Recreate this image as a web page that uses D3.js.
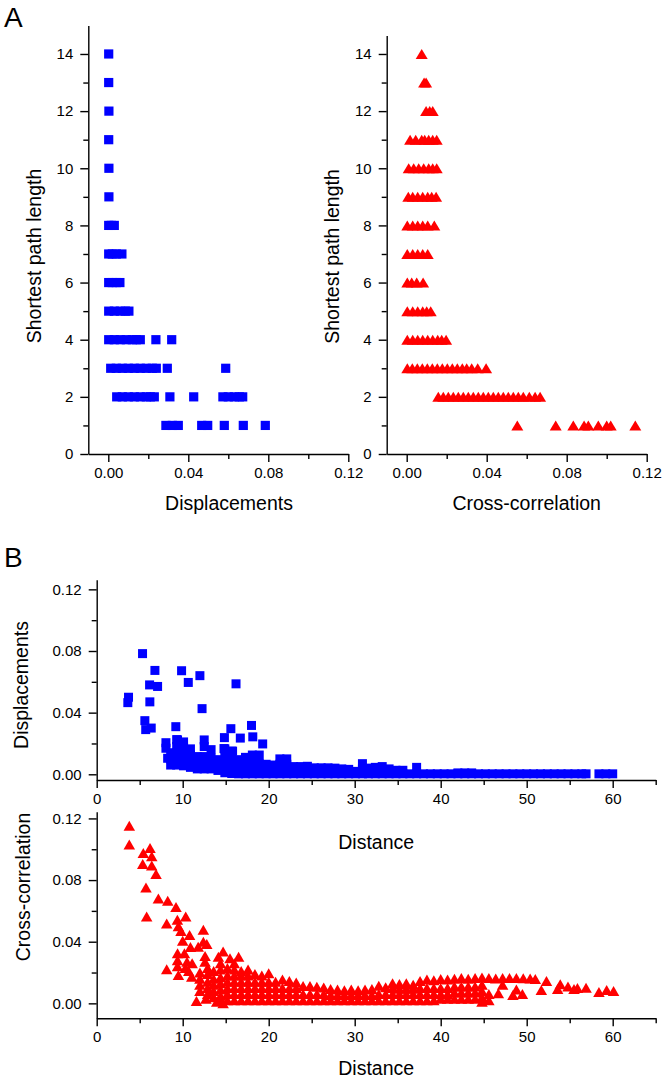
<!DOCTYPE html>
<html><head><meta charset="utf-8">
<script src="https://cdn.jsdelivr.net/npm/d3@7"></script>
<style>
body{margin:0;background:#fff}
svg{display:block}
text{font-family:"Liberation Sans",Arial,sans-serif;fill:#000}
</style>
</head><body>
<svg id="c" width="666" height="1081"></svg>
<script>
// ---------- tick values ----------
const pathLenMajor = [0,2,4,6,8,10,12,14];
const pathLenMinor = [1,3,5,7,9,11,13];
const corrMajor = [0,0.04,0.08,0.12];
const corrMinor = [0.02,0.06,0.10];
const distMajor = [0,10,20,30,40,50,60];
const distMinor = [5,15,25,35,45,55,65];

// ---------- Panel A: rows of [shortest path length, values...] ----------
const dispByPathLength = [
  [14, 0.0002],
  [13, 0.0002],
  [12, 0.0003],
  [11, 0.0002],
  [10, 0.0003],
  [9, 0.0003],
  [8, 0.0002, 0.0015, 0.003],
  [7, 0.0002, 0.002, 0.004, 0.0068],
  [6, 0.0002, 0.002, 0.004, 0.0058],
  [5, 0.0002, 0.003, 0.006, 0.0085, 0.0103],
  [4, 0.0002, 0.003, 0.006, 0.009, 0.012, 0.014, 0.016, 0.0238, 0.0317],
  [3, 0.0012, 0.004, 0.007, 0.010, 0.013, 0.016, 0.019, 0.022, 0.024, 0.0295, 0.0587],
  [2, 0.0042, 0.007, 0.010, 0.013, 0.016, 0.019, 0.021, 0.023, 0.0308, 0.0427, 0.0573, 0.060, 0.063, 0.0655, 0.0672],
  [1, 0.0288, 0.032, 0.035, 0.0467, 0.0497, 0.058, 0.0675, 0.0785]
];
const ccByPathLength = [
  [14, 0.0075],
  [13, 0.0087, 0.0097],
  [12, 0.0097, 0.0115, 0.013],
  [11, 0.0017, 0.0045, 0.0075, 0.009, 0.011, 0.013, 0.015],
  [10, 0.001, 0.0035, 0.006, 0.0085, 0.011, 0.013, 0.015],
  [9, 0.0008, 0.003, 0.0055, 0.008, 0.0105, 0.0125, 0.0147],
  [8, 0.0003, 0.003, 0.0055, 0.008, 0.0105, 0.0138],
  [7, 0.0003, 0.003, 0.0055, 0.008, 0.0105],
  [6, 0.0003, 0.0025, 0.005, 0.0082],
  [5, 0.0003, 0.003, 0.0055, 0.008, 0.010, 0.012],
  [4, 0.0003, 0.003, 0.0055, 0.008, 0.0105, 0.013, 0.0155, 0.0175, 0.0197],
  [3, 0.0003, 0.0028, 0.0053, 0.0078, 0.0103, 0.0128, 0.0153, 0.0178, 0.0203, 0.0228, 0.0253, 0.0278, 0.030, 0.0325, 0.0355, 0.0397],
  [2, 0.0158, 0.0183, 0.0208, 0.0233, 0.0258, 0.0283, 0.0308, 0.0333, 0.0358, 0.0383, 0.0408, 0.0433, 0.0458, 0.0483, 0.0508, 0.0533, 0.0558, 0.0583, 0.0613, 0.0642, 0.0667],
  [1, 0.0553, 0.0745, 0.0833, 0.0887, 0.0908, 0.0958, 0.100, 0.102, 0.1143]
];

// ---------- Panel B: displacements vs distance ----------
const dispOutliers = [
  [5.33,0.0783],[6.77,0.0674],[9.87,0.0672],[12.0,0.064],[10.65,0.0596],[6.15,0.058],[7.08,0.057],
  [16.2,0.0587],[3.7,0.050],[3.62,0.0465],[6.18,0.047],[12.25,0.0426],[5.6,0.0348],[5.7,0.029],
  [6.34,0.030],[9.2,0.0309],[15.6,0.0296],[18.0,0.0317],[18.15,0.0243],[16.7,0.0235],[14.85,0.0238],
  [12.5,0.0223],[9.4,0.0223],[8.05,0.0205],[8.05,0.0169],[19.3,0.0197],[8.25,0.0104],[14.8,0.0167],[15.8,0.015]
];
// columns: [distance, displacement values...]
const dispBand = [
  [8.6,0.006,0.010,0.014],
  [9.3,0.006,0.010,0.014,0.018,0.0225],
  [10.1,0.0055,0.0095,0.0135,0.0175,0.021],
  [10.9,0.0045,0.0085,0.0125,0.0165],
  [11.7,0.0035,0.0075,0.0115],
  [12.5,0.0035,0.0075,0.0115,0.018],
  [13.3,0.0035,0.0075,0.0105,0.016],
  [14.1,0.0025,0.006,0.0095],
  [14.9,0.001,0.004,0.008,0.012,0.0165],
  [15.7,0.0005,0.004,0.008,0.0125,0.015],
  [16.5,0.0003,0.003,0.0065,0.0095],
  [17.3,0.0003,0.003,0.007,0.011],
  [18.1,0.0003,0.003,0.007,0.0125],
  [18.9,0.0003,0.003,0.007,0.0125],
  [19.7,0.0003,0.003,0.0065],
  [20.5,0.0003,0.003,0.006],
  [21.3,0.0003,0.003,0.0065,0.010],
  [22.1,0.0003,0.003,0.0065,0.010],
  [22.9,0.0003,0.003,0.005],
  [23.7,0.0003,0.003,0.005],
  [24.5,0.0003,0.0035,0.0052],
  [25.3,0.0003,0.0042],[26.1,0.0003,0.0042],[26.9,0.0003,0.0042],[27.7,0.0003,0.004],
  [28.5,0.0003,0.0035],[29.3,0.0003,0.0032],[30.1,0.0003,0.0019],[30.9,0.0003,0.0035,0.0069],
  [31.6,0.0003,0.004],[32.4,0.0003,0.0045],[33.2,0.0003,0.005],[34.0,0.0003,0.0035],
  [34.8,0.0003,0.0026],[35.6,0.0003,0.0026],[36.4,0.0003],[37.2,0.0003,0.0045],
  [38.0,0.0003],[38.8,0.0003],[39.6,0.0003],[40.4,0.0003],[41.2,0.0003],[42.0,0.0003,0.0009],
  [42.8,0.0003,0.0009],[43.6,0.0003,0.0009],[44.4,0.0003],[45.2,0.0003],[46.0,0.0003],[46.8,0.0003],
  [47.6,0.0003],[48.4,0.0003],[49.2,0.0003],[50.0,0.0003],[50.8,0.0003],[51.6,0.0003],[52.4,0.0003],
  [53.2,0.0003],[54.0,0.0003],[54.8,0.0003],[55.6,0.0003],[56.4,0.0003],[56.9,0.0003],
  [58.4,0.0003],[59.2,0.0003],[60.0,0.0003]
];

// ---------- Panel B: cross-correlation vs distance ----------
const ccOutliers = [
  [3.79,0.1152],[3.79,0.103],[6.2,0.1008],[5.42,0.0976],[6.4,0.0954],[5.35,0.0904],[6.4,0.0895],
  [6.9,0.0839],[5.73,0.0752],[7.17,0.068],[8.26,0.0666],[9.22,0.0625],[5.81,0.0564],[10.35,0.0564],
  [8.14,0.0518],[9.38,0.0542],[9.5,0.050],[9.8,0.047],[12.4,0.0477],[10.8,0.0444],[10.0,0.0407],
  [12.4,0.040],[12.8,0.0385],[11.8,0.0368],[10.9,0.0366],[9.4,0.0325],[10.2,0.0325],[12.6,0.0308],
  [14.7,0.0336],[14.15,0.0303],[16.5,0.0303],[15.5,0.0293],[9.4,0.028],[10.5,0.027],[11.1,0.026],
  [12.6,0.027],[8.14,0.0221],[9.5,0.0184],[11.05,0.0173],[9.4,0.024],[10.3,0.023],[10.7,0.021],
  [11.6,0.0015],[12.7,0.003],[13.95,0.001],[14.7,0.0]
];
// columns: [distance, cross-correlation values...]
const ccBand = [
  [12.0,0.008,0.012,0.016,0.020],
  [12.9,0.006,0.010,0.014,0.019,0.023],
  [13.6,0.004,0.008,0.012,0.016,0.021],
  [14.4,0.0015,0.005,0.009,0.013,0.017,0.022,0.026],
  [15.2,0.002,0.006,0.010,0.014,0.018,0.023],
  [16.0,0.002,0.006,0.010,0.014,0.018,0.022,0.026],
  [16.8,0.002,0.006,0.010,0.014,0.018,0.021],
  [17.6,0.002,0.006,0.010,0.014,0.018,0.022],
  [18.4,0.002,0.006,0.010,0.014,0.019],
  [19.2,0.002,0.006,0.010,0.014,0.018],
  [20.0,0.002,0.006,0.010,0.014,0.0195],
  [20.8,0.002,0.006,0.010,0.014],
  [21.6,0.002,0.006,0.010,0.0155],
  [22.4,0.002,0.006,0.010,0.0145],
  [23.2,0.002,0.006,0.010,0.0135],
  [24.0,0.002,0.006,0.0112],
  [24.8,0.002,0.006,0.0113],
  [25.6,0.002,0.006,0.0108],
  [26.4,0.002,0.006,0.0103],
  [27.2,0.002,0.0055,0.0093],
  [28.0,0.002,0.0055,0.009],
  [28.8,0.002,0.0055,0.0085],
  [29.6,0.002,0.0055,0.009],
  [30.4,0.002,0.0055,0.0085],
  [31.2,0.002,0.0055,0.009],
  [32.0,0.002,0.0055,0.0093],
  [32.8,0.002,0.006,0.0115],
  [33.6,0.002,0.006,0.0105],
  [34.4,0.002,0.006,0.010,0.013],
  [35.2,0.002,0.006,0.0095,0.0125],
  [36.0,0.002,0.006,0.0095,0.013],
  [36.8,0.002,0.006,0.0095,0.012],
  [37.6,0.002,0.006,0.010,0.0145],
  [38.4,0.002,0.006,0.010,0.0155],
  [39.2,0.002,0.006,0.010,0.015],
  [40.0,0.003,0.006,0.010,0.0158],
  [40.8,0.003,0.006,0.010,0.0155],
  [41.6,0.003,0.007,0.011,0.016],
  [42.4,0.003,0.007,0.011,0.0165],
  [43.2,0.003,0.007,0.011,0.016],
  [44.0,0.003,0.007,0.011,0.0165],
  [44.8,0.001,0.004,0.008,0.012,0.0168],
  [45.6,0.002,0.006,0.0165],
  [46.4,0.0162],[46.7,0.0065],[47.2,0.0165,0.012],[48.0,0.0165],[48.4,0.0055],
  [48.8,0.0165,0.009],[49.5,0.006],[49.6,0.0163],[50.4,0.0162],[51.0,0.0158],
  [51.7,0.0087],[52.3,0.0145],[53.6,0.0093],[53.9,0.0124],[54.8,0.0109],[55.5,0.0093],
  [55.9,0.0099],[56.9,0.0102],[58.4,0.0074],[59.3,0.0087],[60.1,0.008]
];

// ---------- helpers ----------
const BLUE = "#0000ff", RED = "#ff0000";
const svg = d3.select("#c");
const TICK_FONT = "15px", TITLE_FONT = "19.5px";

function rowsToPoints(rows){
  const pts = [];
  rows.forEach(r => r.slice(1).forEach(v => pts.push([r[0], v])));
  return pts;
}
function triPath(cx, cy, w, h){
  return `M${cx},${cy-h/2}L${cx+w/2},${cy+h/2}L${cx-w/2},${cy+h/2}Z`;
}
function styleAxis(g){
  g.selectAll("path.domain").attr("stroke","#000").attr("stroke-width",1.4);
  g.selectAll(".tick line").attr("stroke","#000").attr("stroke-width",1.4);
  g.selectAll(".tick text").style("font-size",TICK_FONT).attr("fill","#000");
}
function drawAxes(x, y, xMaj, xMin, yMaj, yMin, xFmt, yFmt){
  const xy = y.range()[0], xx = x.range()[0];
  // minor first
  svg.append("g").attr("transform",`translate(0,${xy})`)
    .call(d3.axisBottom(x).tickValues(xMin).tickSize(5).tickSizeOuter(0).tickFormat(""))
    .call(g=>{styleAxis(g); g.select(".domain").remove();});
  svg.append("g").attr("transform",`translate(${xx},0)`)
    .call(d3.axisLeft(y).tickValues(yMin).tickSize(5).tickSizeOuter(0).tickFormat(""))
    .call(g=>{styleAxis(g); g.select(".domain").remove();});
  svg.append("g").attr("transform",`translate(0,${xy})`)
    .call(d3.axisBottom(x).tickValues(xMaj).tickSize(8).tickPadding(5).tickSizeOuter(0).tickFormat(xFmt))
    .call(styleAxis);
  svg.append("g").attr("transform",`translate(${xx},0)`)
    .call(d3.axisLeft(y).tickValues(yMaj).tickSize(8).tickPadding(7).tickSizeOuter(0).tickFormat(yFmt))
    .call(styleAxis);
}
function hTitle(txt, cx, baseline){
  svg.append("text").attr("x",cx).attr("y",baseline).attr("text-anchor","middle")
    .style("font-size",TITLE_FONT).text(txt);
}
function vTitle(txt, cx, cy){
  svg.append("text").attr("transform",`translate(${cx},${cy}) rotate(-90)`)
    .attr("text-anchor","middle").attr("dy","0.25em").style("font-size",TITLE_FONT).text(txt);
}
const f2 = d3.format(".2f"), fd = d3.format("d");

// ---------- Panel A left ----------
const xA1 = d3.scaleLinear().domain([-0.01,0.12]).range([88.3,348.3]);
const yA1 = d3.scaleLinear().domain([0,15]).range([454,25.4]);
drawAxes(xA1, yA1, corrMajor, corrMinor, pathLenMajor, pathLenMinor, f2, fd);
svg.append("g").selectAll("rect").data(rowsToPoints(dispByPathLength)).join("rect")
  .attr("x",d=>xA1(d[1])-4.6).attr("y",d=>yA1(d[0])-4.6)
  .attr("width",9.2).attr("height",9.2).attr("fill",BLUE);
vTitle("Shortest path length", 35.7, 256);
hTitle("Displacements", 229, 510);

// ---------- Panel A right ----------
const xA2 = d3.scaleLinear().domain([-0.01,0.12]).range([386.7,646.7]);
const yA2 = d3.scaleLinear().domain([0,14.65]).range([454,35.4]);
drawAxes(xA2, yA2, corrMajor, corrMinor, pathLenMajor, pathLenMinor, f2, fd);
svg.append("g").selectAll("path").data(rowsToPoints(ccByPathLength)).join("path")
  .attr("d",d=>triPath(xA2(d[1]), yA2(d[0]), 12, 10)).attr("fill",RED);
vTitle("Shortest path length", 334, 256.5);
hTitle("Cross-correlation", 526.7, 510);

// ---------- Panel B top ----------
const xB = d3.scaleLinear().domain([0,65]).range([96.7,655.7]);
const yB1 = d3.scaleLinear().domain([-0.0037,0.1262]).range([780,579.8]);
drawAxes(xB, yB1, distMajor, distMinor, corrMajor, corrMinor, fd, f2);
svg.append("g").selectAll("rect").data(dispOutliers.concat(rowsToPoints(dispBand))).join("rect")
  .attr("x",d=>xB(d[0])-4.5).attr("y",d=>yB1(d[1])-4.5)
  .attr("width",9).attr("height",9).attr("fill",BLUE);
vTitle("Displacements", 23.5, 685);
hTitle("Distance", 376.2, 849);

// ---------- Panel B bottom ----------
const yB2 = d3.scaleLinear().domain([-0.0097,0.1243]).range([1018.3,811.8]);
drawAxes(xB, yB2, distMajor, distMinor, corrMajor, corrMinor, fd, f2);
svg.append("g").selectAll("path").data(ccOutliers.concat(rowsToPoints(ccBand))).join("path")
  .attr("d",d=>triPath(xB(d[0]), yB2(d[1]), 11.5, 10)).attr("fill",RED);
vTitle("Cross-correlation", 25, 887);
hTitle("Distance", 376.2, 1075);

// ---------- panel letters ----------
svg.append("text").attr("x",4).attr("y",27).style("font-size","28px").text("A");
svg.append("text").attr("x",4).attr("y",567).style("font-size","28px").text("B");
</script>
</body></html>
